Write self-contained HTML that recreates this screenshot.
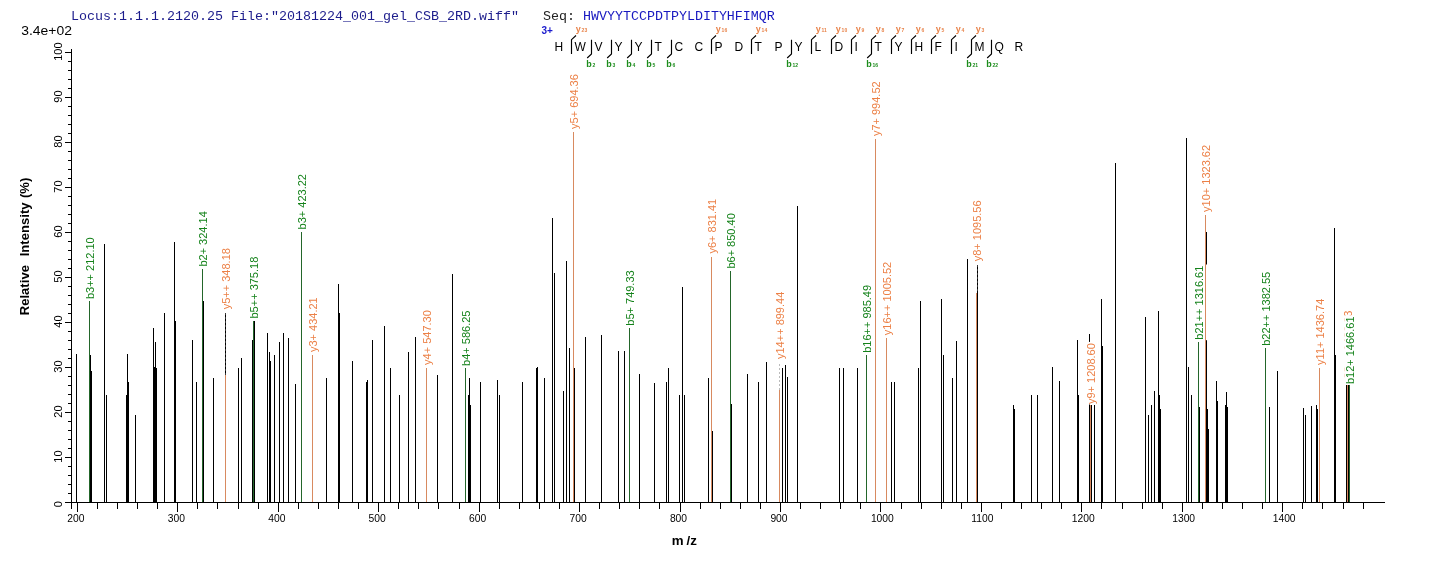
<!DOCTYPE html>
<html><head><meta charset="utf-8"><title>Spectrum</title>
<style>html,body{margin:0;padding:0;background:#fff}body{width:1436px;height:562px;overflow:hidden}</style></head>
<body>
<svg width="1436" height="562" viewBox="0 0 1436 562" style="display:block">
<rect width="1436" height="562" fill="#fff"/>
<path d="M76.5 354V502M90.5 355V502M91.5 371V502M104.5 244V502M106.5 395V502M126.5 395V502M127.5 354V502M128.5 382V502M135.5 415V502M153.5 328V502M154.5 367V502M155.5 342V502M156.5 368V502M164.5 313V502M174.5 242V502M175.5 321V502M192.5 340V502M196.5 382V502M203.5 301V502M213.5 378V502M225.5 313V502M238.5 368V502M241.5 358V502M252.5 340V502M254.5 321V502M267.5 333V502M269.5 352V502M270.5 361V502M274.5 355V502M279.5 342V502M283.5 333V502M288.5 338V502M295.5 384V502M326.5 378V502M338.5 284V502M339.5 313V502M352.5 361V502M366.5 382V502M367.5 380V502M372.5 340V502M384.5 326V502M390.5 368V502M399.5 395V502M408.5 352V502M415.5 337V502M437.5 375V502M452.5 274V502M468.5 395V502M469.5 378V502M470.5 405V502M480.5 382V502M497.5 380V502M499.5 395V502M522.5 382V502M536.5 368V502M537.5 367V502M544.5 378V502M552.5 218V502M554.5 273V502M563.5 391V502M566.5 261V502M569.5 348V502M574.5 368V502M585.5 337V502M601.5 335V502M618.5 351V502M624.5 351V502M639.5 374V502M654.5 383V502M666.5 382V502M668.5 368V502M679.5 395V502M682.5 287V502M684.5 395V502M708.5 378V502M712.5 431V502M731.5 404V502M747.5 374V502M758.5 382V502M766.5 362V502M782.5 368V502M785.5 365V502M787.5 377V502M797.5 206V502M839.5 368V502M843.5 368V502M857.5 368V502M891.5 382V502M894.5 382V502M918.5 368V502M920.5 301V502M941.5 299V502M943.5 355V502M952.5 378V502M956.5 341V502M967.5 259V502M977.5 265V502M1013.5 405V502M1014.5 409V502M1031.5 395V502M1037.5 395V502M1052.5 367V502M1059.5 381V502M1077.5 340V502M1078.5 395V502M1089.5 334V502M1091.5 405V502M1094.5 405V502M1101.5 299V502M1102.5 346V502M1115.5 163V502M1145.5 317V502M1148.5 415V502M1151.5 405V502M1154.5 391V502M1158.5 311V502M1159.5 395V502M1160.5 409V502M1186.5 138V502M1188.5 367V502M1191.5 395V502M1199.5 407V502M1206.5 232V502M1207.5 409V502M1208.5 429V502M1216.5 381V502M1217.5 401V502M1225.5 405V502M1226.5 392V502M1227.5 407V502M1269.5 407V502M1277.5 371V502M1303.5 408V502M1305.5 415V502M1311.5 406V502M1316.5 405V502M1317.5 409V502M1334.5 228V502M1335.5 355V502M1346.5 385V502M1348.5 385V502" stroke="#000" stroke-width="1" fill="none" shape-rendering="crispEdges"/>
<path d="M65 502.5H1385M71.5 49V509M65 502.5H72M68 493.5H72M68 484.5H72M68 475.5H72M68 466.5H72M65 457.5H72M68 448.5H72M68 439.5H72M68 430.5H72M68 421.5H72M65 412.5H72M68 403.5H72M68 394.5H72M68 385.5H72M68 376.5H72M65 367.5H72M68 358.5H72M68 349.5H72M68 340.5H72M68 331.5H72M65 322.5H72M68 313.5H72M68 304.5H72M68 295.5H72M68 286.5H72M65 277.5H72M68 268.5H72M68 259.5H72M68 250.5H72M68 241.5H72M65 232.5H72M68 223.5H72M68 214.5H72M68 205.5H72M68 196.5H72M65 187.5H72M68 178.5H72M68 169.5H72M68 160.5H72M68 151.5H72M65 142.5H72M68 133.5H72M68 124.5H72M68 115.5H72M68 106.5H72M65 97.5H72M68 88.5H72M68 79.5H72M68 70.5H72M68 61.5H72M65 52.5H72M77.5 502V512M97.5 502V509M117.5 502V509M137.5 502V509M157.5 502V509M177.5 502V512M197.5 502V509M217.5 502V509M238.5 502V509M258.5 502V509M278.5 502V512M298.5 502V509M318.5 502V509M338.5 502V509M358.5 502V509M378.5 502V512M398.5 502V509M418.5 502V509M438.5 502V509M459.5 502V509M479.5 502V512M499.5 502V509M519.5 502V509M539.5 502V509M559.5 502V509M579.5 502V512M599.5 502V509M619.5 502V509M639.5 502V509M659.5 502V509M680.5 502V512M700.5 502V509M720.5 502V509M740.5 502V509M760.5 502V509M780.5 502V512M800.5 502V509M820.5 502V509M840.5 502V509M860.5 502V509M880.5 502V512M901.5 502V509M921.5 502V509M941.5 502V509M961.5 502V509M981.5 502V512M1001.5 502V509M1021.5 502V509M1041.5 502V509M1061.5 502V509M1081.5 502V512M1101.5 502V509M1122.5 502V509M1142.5 502V509M1162.5 502V509M1182.5 502V512M1202.5 502V509M1222.5 502V509M1242.5 502V509M1262.5 502V509M1282.5 502V512M1302.5 502V509M1322.5 502V509M1343.5 502V509M1363.5 502V509" stroke="#000" stroke-width="1" fill="none" shape-rendering="crispEdges"/>
<text x="67.3" y="522.2" font-size="10.3" letter-spacing="0" font-family="Liberation Sans, sans-serif" fill="#000">200</text>
<text x="167.7" y="522.2" font-size="10.3" letter-spacing="0" font-family="Liberation Sans, sans-serif" fill="#000">300</text>
<text x="268.2" y="522.2" font-size="10.3" letter-spacing="0" font-family="Liberation Sans, sans-serif" fill="#000">400</text>
<text x="368.6" y="522.2" font-size="10.3" letter-spacing="0" font-family="Liberation Sans, sans-serif" fill="#000">500</text>
<text x="469.1" y="522.2" font-size="10.3" letter-spacing="0" font-family="Liberation Sans, sans-serif" fill="#000">600</text>
<text x="569.5" y="522.2" font-size="10.3" letter-spacing="0" font-family="Liberation Sans, sans-serif" fill="#000">700</text>
<text x="669.9" y="522.2" font-size="10.3" letter-spacing="0" font-family="Liberation Sans, sans-serif" fill="#000">800</text>
<text x="770.4" y="522.2" font-size="10.3" letter-spacing="0" font-family="Liberation Sans, sans-serif" fill="#000">900</text>
<text x="870.9" y="522.2" font-size="10.3" letter-spacing="0" font-family="Liberation Sans, sans-serif" fill="#000">1000</text>
<text x="971.3" y="522.2" font-size="10.3" letter-spacing="0" font-family="Liberation Sans, sans-serif" fill="#000">1100</text>
<text x="1071.8" y="522.2" font-size="10.3" letter-spacing="0" font-family="Liberation Sans, sans-serif" fill="#000">1200</text>
<text x="1172.2" y="522.2" font-size="10.3" letter-spacing="0" font-family="Liberation Sans, sans-serif" fill="#000">1300</text>
<text x="1272.7" y="522.2" font-size="10.3" letter-spacing="0" font-family="Liberation Sans, sans-serif" fill="#000">1400</text>
<text transform="translate(61.8 504.2) rotate(-90)" font-size="11" text-anchor="middle" font-family="Liberation Sans, sans-serif" fill="#000">0</text>
<text transform="translate(61.8 456.6) rotate(-90)" font-size="11" text-anchor="middle" font-family="Liberation Sans, sans-serif" fill="#000">10</text>
<text transform="translate(61.8 411.6) rotate(-90)" font-size="11" text-anchor="middle" font-family="Liberation Sans, sans-serif" fill="#000">20</text>
<text transform="translate(61.8 366.6) rotate(-90)" font-size="11" text-anchor="middle" font-family="Liberation Sans, sans-serif" fill="#000">30</text>
<text transform="translate(61.8 321.6) rotate(-90)" font-size="11" text-anchor="middle" font-family="Liberation Sans, sans-serif" fill="#000">40</text>
<text transform="translate(61.8 276.6) rotate(-90)" font-size="11" text-anchor="middle" font-family="Liberation Sans, sans-serif" fill="#000">50</text>
<text transform="translate(61.8 231.6) rotate(-90)" font-size="11" text-anchor="middle" font-family="Liberation Sans, sans-serif" fill="#000">60</text>
<text transform="translate(61.8 186.6) rotate(-90)" font-size="11" text-anchor="middle" font-family="Liberation Sans, sans-serif" fill="#000">70</text>
<text transform="translate(61.8 141.6) rotate(-90)" font-size="11" text-anchor="middle" font-family="Liberation Sans, sans-serif" fill="#000">80</text>
<text transform="translate(61.8 96.6) rotate(-90)" font-size="11" text-anchor="middle" font-family="Liberation Sans, sans-serif" fill="#000">90</text>
<text transform="translate(61.8 51.6) rotate(-90)" font-size="11" text-anchor="middle" font-family="Liberation Sans, sans-serif" fill="#000">100</text>
<text transform="translate(28.7 246.5) rotate(-90)" font-size="13" font-weight="bold" letter-spacing="0.05" word-spacing="0.7" text-anchor="middle" font-family="Liberation Sans, sans-serif" fill="#000" xml:space="preserve">Relative  Intensity (%)</text>
<text y="544.8" font-size="13.3" font-weight="bold" font-family="Liberation Sans, sans-serif" fill="#000"><tspan x="671.7">m</tspan><tspan x="686.5">/</tspan><tspan x="690.3">z</tspan></text>
<text transform="translate(21.2 34.8) scale(1.16 1)" font-size="12" font-family="Liberation Sans, sans-serif" fill="#000">3.4e+02</text>
<text x="71" y="20" font-size="13.33" font-family="Liberation Mono, monospace" xml:space="preserve"><tspan fill="#1c1c8c">Locus:1.1.1.2120.25 File:"20181224_001_gel_CSB_2RD.wiff"</tspan><tspan fill="#222">   Seq: </tspan><tspan fill="#1818c0">HWVYYTCCPDTPYLDITYHFIMQR</tspan></text>
<rect x="84.3" y="236.1" width="13.7" height="63.5" fill="#fff"/>
<text transform="translate(93.75 299.1) rotate(-90)" font-size="11" font-family="Liberation Sans, sans-serif" fill="#14821a">b3++ 212.10</text>
<rect x="197.3" y="210.0" width="13.7" height="57.1" fill="#fff"/>
<text transform="translate(206.75 266.6) rotate(-90)" font-size="11" font-family="Liberation Sans, sans-serif" fill="#14821a">b2+ 324.14</text>
<rect x="220.3" y="246.9" width="13.7" height="62.9" fill="#fff"/>
<text transform="translate(229.75 309.3) rotate(-90)" font-size="11" font-family="Liberation Sans, sans-serif" fill="#ec8046">y5++ 348.18</text>
<rect x="248.3" y="255.5" width="13.7" height="63.5" fill="#fff"/>
<text transform="translate(257.75 318.5) rotate(-90)" font-size="11" font-family="Liberation Sans, sans-serif" fill="#14821a">b5++ 375.18</text>
<rect x="296.3" y="172.8" width="13.7" height="57.1" fill="#fff"/>
<text transform="translate(305.75 229.4) rotate(-90)" font-size="11" font-family="Liberation Sans, sans-serif" fill="#14821a">b3+ 423.22</text>
<rect x="307.3" y="296.1" width="13.7" height="56.4" fill="#fff"/>
<text transform="translate(316.75 352) rotate(-90)" font-size="11" font-family="Liberation Sans, sans-serif" fill="#ec8046">y3+ 434.21</text>
<rect x="421.3" y="309.0" width="13.7" height="56.4" fill="#fff"/>
<text transform="translate(430.75 364.9) rotate(-90)" font-size="11" font-family="Liberation Sans, sans-serif" fill="#ec8046">y4+ 547.30</text>
<rect x="460.3" y="309.3" width="13.7" height="57.1" fill="#fff"/>
<text transform="translate(469.75 365.9) rotate(-90)" font-size="11" font-family="Liberation Sans, sans-serif" fill="#14821a">b4+ 586.25</text>
<rect x="568.3" y="73.0" width="13.7" height="56.4" fill="#fff"/>
<text transform="translate(577.75 128.9) rotate(-90)" font-size="11" font-family="Liberation Sans, sans-serif" fill="#ec8046">y5+ 694.36</text>
<rect x="624.3" y="269.1" width="13.7" height="57.1" fill="#fff"/>
<text transform="translate(633.75 325.7) rotate(-90)" font-size="11" font-family="Liberation Sans, sans-serif" fill="#14821a">b5+ 749.33</text>
<rect x="706.3" y="197.6" width="13.7" height="56.4" fill="#fff"/>
<text transform="translate(715.75 253.5) rotate(-90)" font-size="11" font-family="Liberation Sans, sans-serif" fill="#ec8046">y6+ 831.41</text>
<rect x="725.3" y="212.0" width="13.7" height="57.1" fill="#fff"/>
<text transform="translate(734.75 268.6) rotate(-90)" font-size="11" font-family="Liberation Sans, sans-serif" fill="#14821a">b6+ 850.40</text>
<rect x="774.3" y="290.5" width="13.7" height="69.0" fill="#fff"/>
<text transform="translate(783.75 359) rotate(-90)" font-size="11" font-family="Liberation Sans, sans-serif" fill="#ec8046">y14++ 899.44</text>
<rect x="861.3" y="283.7" width="13.7" height="69.6" fill="#fff"/>
<text transform="translate(870.75 352.8) rotate(-90)" font-size="11" font-family="Liberation Sans, sans-serif" fill="#14821a">b16++ 985.49</text>
<rect x="870.3" y="80.2" width="13.7" height="56.4" fill="#fff"/>
<text transform="translate(879.75 136.1) rotate(-90)" font-size="11" font-family="Liberation Sans, sans-serif" fill="#ec8046">y7+ 994.52</text>
<rect x="881.3" y="260.6" width="13.7" height="75.1" fill="#fff"/>
<text transform="translate(890.75 335.2) rotate(-90)" font-size="11" font-family="Liberation Sans, sans-serif" fill="#ec8046">y16++ 1005.52</text>
<rect x="971.3" y="199.2" width="13.7" height="62.6" fill="#fff"/>
<text transform="translate(980.75 261.3) rotate(-90)" font-size="11" font-family="Liberation Sans, sans-serif" fill="#ec8046">y8+ 1095.56</text>
<rect x="1085.3" y="341.9" width="13.7" height="62.6" fill="#fff"/>
<text transform="translate(1094.75 404) rotate(-90)" font-size="11" font-family="Liberation Sans, sans-serif" fill="#ec8046">y9+ 1208.60</text>
<rect x="1193.3" y="264.5" width="13.7" height="75.7" fill="#fff"/>
<text transform="translate(1202.75 339.7) rotate(-90)" font-size="11" font-family="Liberation Sans, sans-serif" fill="#14821a">b21++ 1316.61</text>
<rect x="1200.3" y="143.7" width="13.7" height="68.7" fill="#fff"/>
<text transform="translate(1209.75 211.9) rotate(-90)" font-size="11" font-family="Liberation Sans, sans-serif" fill="#ec8046">y10+ 1323.62</text>
<rect x="1260.3" y="270.6" width="13.7" height="75.7" fill="#fff"/>
<text transform="translate(1269.75 345.8) rotate(-90)" font-size="11" font-family="Liberation Sans, sans-serif" fill="#14821a">b22++ 1382.55</text>
<rect x="1314.3" y="296.7" width="13.7" height="68.7" fill="#fff"/>
<text transform="translate(1323.75 364.9) rotate(-90)" font-size="11" font-family="Liberation Sans, sans-serif" fill="#ec8046">y11+ 1436.74</text>
<rect x="1342.3" y="309.5" width="13.7" height="75.1" fill="#fff"/>
<text transform="translate(1351.75 384.1) rotate(-90)" font-size="11" font-family="Liberation Sans, sans-serif" fill="#ec8046">y23++ 1466.63</text>
<rect x="1344.3" y="315.3" width="13.7" height="69.3" fill="#fff"/>
<text transform="translate(1353.75 384.1) rotate(-90)" font-size="11" font-family="Liberation Sans, sans-serif" fill="#14821a">b12+ 1466.61</text>
<path d="M89.5 301V502M202.5 269V502M253.5 321V502M301.5 232V502M465.5 368V502M629.5 328V502M730.5 271V502M866.5 355V502M1198.5 342V502M1265.5 348V502M1349.5 385V502" stroke="#23662a" stroke-width="1" fill="none" shape-rendering="crispEdges"/>
<path d="M225.5 375V502M312.5 355V502M426.5 368V502M573.5 132V502M711.5 257V502M779.5 390V502M875.5 139V502M886.5 338V502M976.5 293V502M1090.5 405V502M1205.5 215V502M1319.5 368V502M1347.5 385V502" stroke="#d88a60" stroke-width="1" fill="none" shape-rendering="crispEdges"/>
<path d="M225.5 313V375" stroke="#bbb" stroke-opacity="0.3" stroke-width="1" stroke-dasharray="2 2" fill="none" shape-rendering="crispEdges"/>
<path d="M779.5 364V390" stroke="#bbb" stroke-opacity="1" stroke-width="1" stroke-dasharray="2 2" fill="none" shape-rendering="crispEdges"/>
<path d="M977.5 265V293" stroke="#bbb" stroke-opacity="0.3" stroke-width="1" stroke-dasharray="2 2" fill="none" shape-rendering="crispEdges"/>
<text x="554.5" y="50.8" font-size="12" font-family="Liberation Sans, sans-serif" fill="#000">H</text>
<text x="574.5" y="50.8" font-size="12" font-family="Liberation Sans, sans-serif" fill="#000">W</text>
<text x="594.5" y="50.8" font-size="12" font-family="Liberation Sans, sans-serif" fill="#000">V</text>
<text x="614.5" y="50.8" font-size="12" font-family="Liberation Sans, sans-serif" fill="#000">Y</text>
<text x="634.5" y="50.8" font-size="12" font-family="Liberation Sans, sans-serif" fill="#000">Y</text>
<text x="654.5" y="50.8" font-size="12" font-family="Liberation Sans, sans-serif" fill="#000">T</text>
<text x="674.5" y="50.8" font-size="12" font-family="Liberation Sans, sans-serif" fill="#000">C</text>
<text x="694.5" y="50.8" font-size="12" font-family="Liberation Sans, sans-serif" fill="#000">C</text>
<text x="714.5" y="50.8" font-size="12" font-family="Liberation Sans, sans-serif" fill="#000">P</text>
<text x="734.5" y="50.8" font-size="12" font-family="Liberation Sans, sans-serif" fill="#000">D</text>
<text x="754.5" y="50.8" font-size="12" font-family="Liberation Sans, sans-serif" fill="#000">T</text>
<text x="774.5" y="50.8" font-size="12" font-family="Liberation Sans, sans-serif" fill="#000">P</text>
<text x="794.5" y="50.8" font-size="12" font-family="Liberation Sans, sans-serif" fill="#000">Y</text>
<text x="814.5" y="50.8" font-size="12" font-family="Liberation Sans, sans-serif" fill="#000">L</text>
<text x="834.5" y="50.8" font-size="12" font-family="Liberation Sans, sans-serif" fill="#000">D</text>
<text x="854.5" y="50.8" font-size="12" font-family="Liberation Sans, sans-serif" fill="#000">I</text>
<text x="874.5" y="50.8" font-size="12" font-family="Liberation Sans, sans-serif" fill="#000">T</text>
<text x="894.5" y="50.8" font-size="12" font-family="Liberation Sans, sans-serif" fill="#000">Y</text>
<text x="914.5" y="50.8" font-size="12" font-family="Liberation Sans, sans-serif" fill="#000">H</text>
<text x="934.5" y="50.8" font-size="12" font-family="Liberation Sans, sans-serif" fill="#000">F</text>
<text x="954.5" y="50.8" font-size="12" font-family="Liberation Sans, sans-serif" fill="#000">I</text>
<text x="974.5" y="50.8" font-size="12" font-family="Liberation Sans, sans-serif" fill="#000">M</text>
<text x="994.5" y="50.8" font-size="12" font-family="Liberation Sans, sans-serif" fill="#000">Q</text>
<text x="1014.5" y="50.8" font-size="12" font-family="Liberation Sans, sans-serif" fill="#000">R</text>
<path d="M576.0 35.5L571.5 39.7V54M591.5 39.7V54L587.2 58M611.5 39.7V54L607.2 58M631.5 39.7V54L627.2 58M651.5 39.7V54L647.2 58M671.5 39.7V54L667.2 58M716.0 35.5L711.5 39.7V54M756.0 35.5L751.5 39.7V54M791.5 39.7V54L787.2 58M816.0 35.5L811.5 39.7V54M836.0 35.5L831.5 39.7V54M856.0 35.5L851.5 39.7V54M876.0 35.5L871.5 39.7V54L867.2 58M896.0 35.5L891.5 39.7V54M916.0 35.5L911.5 39.7V54M936.0 35.5L931.5 39.7V54M956.0 35.5L951.5 39.7V54M976.0 35.5L971.5 39.7V54L967.2 58M991.5 39.7V54L987.2 58" stroke="#000" stroke-width="1.15" fill="none"/>
<text x="575.8" y="32" font-size="9" font-weight="bold" font-family="Liberation Sans, sans-serif" fill="#e8834a">y<tspan font-size="5" dy="-0.3" dx="0.8">23</tspan></text>
<text x="715.8" y="32" font-size="9" font-weight="bold" font-family="Liberation Sans, sans-serif" fill="#e8834a">y<tspan font-size="5" dy="-0.3" dx="0.8">16</tspan></text>
<text x="755.8" y="32" font-size="9" font-weight="bold" font-family="Liberation Sans, sans-serif" fill="#e8834a">y<tspan font-size="5" dy="-0.3" dx="0.8">14</tspan></text>
<text x="815.8" y="32" font-size="9" font-weight="bold" font-family="Liberation Sans, sans-serif" fill="#e8834a">y<tspan font-size="5" dy="-0.3" dx="0.8">11</tspan></text>
<text x="835.8" y="32" font-size="9" font-weight="bold" font-family="Liberation Sans, sans-serif" fill="#e8834a">y<tspan font-size="5" dy="-0.3" dx="0.8">10</tspan></text>
<text x="855.8" y="32" font-size="9" font-weight="bold" font-family="Liberation Sans, sans-serif" fill="#e8834a">y<tspan font-size="5" dy="-0.3" dx="0.8">9</tspan></text>
<text x="875.8" y="32" font-size="9" font-weight="bold" font-family="Liberation Sans, sans-serif" fill="#e8834a">y<tspan font-size="5" dy="-0.3" dx="0.8">8</tspan></text>
<text x="895.8" y="32" font-size="9" font-weight="bold" font-family="Liberation Sans, sans-serif" fill="#e8834a">y<tspan font-size="5" dy="-0.3" dx="0.8">7</tspan></text>
<text x="915.8" y="32" font-size="9" font-weight="bold" font-family="Liberation Sans, sans-serif" fill="#e8834a">y<tspan font-size="5" dy="-0.3" dx="0.8">6</tspan></text>
<text x="935.8" y="32" font-size="9" font-weight="bold" font-family="Liberation Sans, sans-serif" fill="#e8834a">y<tspan font-size="5" dy="-0.3" dx="0.8">5</tspan></text>
<text x="955.8" y="32" font-size="9" font-weight="bold" font-family="Liberation Sans, sans-serif" fill="#e8834a">y<tspan font-size="5" dy="-0.3" dx="0.8">4</tspan></text>
<text x="975.8" y="32" font-size="9" font-weight="bold" font-family="Liberation Sans, sans-serif" fill="#e8834a">y<tspan font-size="5" dy="-0.3" dx="0.8">3</tspan></text>
<text x="586.3" y="66.8" font-size="9" font-weight="bold" font-family="Liberation Sans, sans-serif" fill="#1c8c1c">b<tspan font-size="5" dx="0.8">2</tspan></text>
<text x="606.3" y="66.8" font-size="9" font-weight="bold" font-family="Liberation Sans, sans-serif" fill="#1c8c1c">b<tspan font-size="5" dx="0.8">3</tspan></text>
<text x="626.3" y="66.8" font-size="9" font-weight="bold" font-family="Liberation Sans, sans-serif" fill="#1c8c1c">b<tspan font-size="5" dx="0.8">4</tspan></text>
<text x="646.3" y="66.8" font-size="9" font-weight="bold" font-family="Liberation Sans, sans-serif" fill="#1c8c1c">b<tspan font-size="5" dx="0.8">5</tspan></text>
<text x="666.3" y="66.8" font-size="9" font-weight="bold" font-family="Liberation Sans, sans-serif" fill="#1c8c1c">b<tspan font-size="5" dx="0.8">6</tspan></text>
<text x="786.3" y="66.8" font-size="9" font-weight="bold" font-family="Liberation Sans, sans-serif" fill="#1c8c1c">b<tspan font-size="5" dx="0.8">12</tspan></text>
<text x="866.3" y="66.8" font-size="9" font-weight="bold" font-family="Liberation Sans, sans-serif" fill="#1c8c1c">b<tspan font-size="5" dx="0.8">16</tspan></text>
<text x="966.3" y="66.8" font-size="9" font-weight="bold" font-family="Liberation Sans, sans-serif" fill="#1c8c1c">b<tspan font-size="5" dx="0.8">21</tspan></text>
<text x="986.3" y="66.8" font-size="9" font-weight="bold" font-family="Liberation Sans, sans-serif" fill="#1c8c1c">b<tspan font-size="5" dx="0.8">22</tspan></text>
<text x="541.5" y="34" font-size="10" font-weight="bold" font-family="Liberation Sans, sans-serif" fill="#1a1acd">3+</text>
</svg>
</body></html>
